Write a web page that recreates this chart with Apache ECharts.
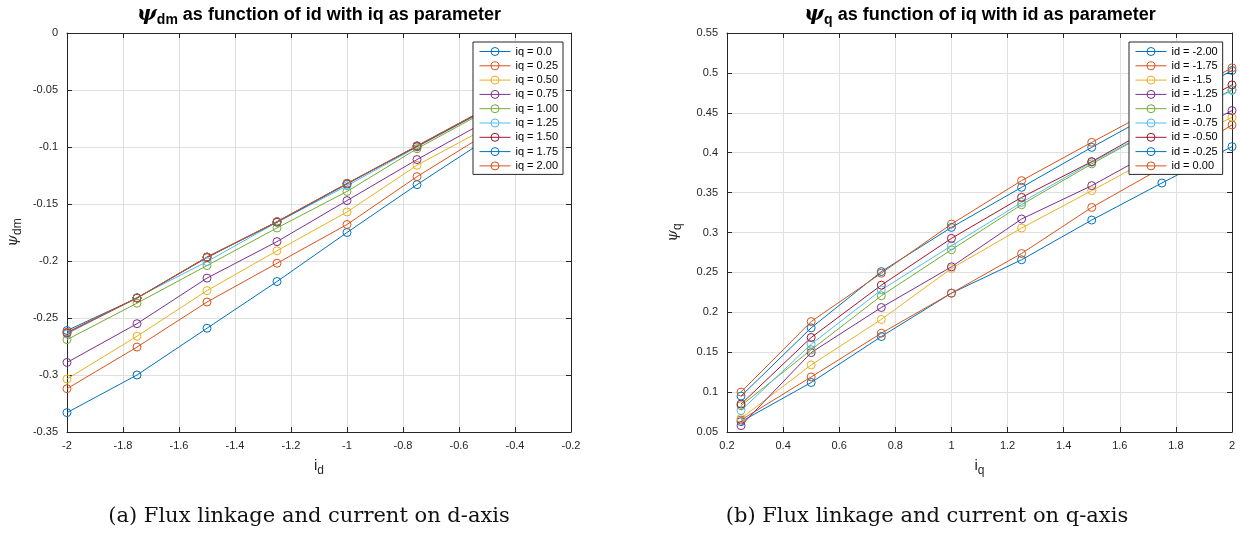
<!DOCTYPE html>
<html>
<head>
<meta charset="utf-8">
<script src="https://cdn.jsdelivr.net/npm/echarts@6/dist/echarts.min.js"></script>
<style>
html,body{margin:0;padding:0;background:#fff;}
#c{width:1240px;height:533px;}
</style>
</head>
<body>
<div id="c"></div>
<script>
// ---------- DATA ----------
// Left: psi_dm vs id, one series per iq
const idVals = [-2, -1.75, -1.5, -1.25, -1, -0.75, -0.5];
const leftNames = ['iq = 0.0','iq = 0.25','iq = 0.50','iq = 0.75','iq = 1.00','iq = 1.25','iq = 1.50','iq = 1.75','iq = 2.00'];
const psiDm_iq000 = [-0.333, -0.300, -0.259, -0.218, -0.175, -0.133, -0.093];
const psiDm_iq025 = [-0.312, -0.2755, -0.236, -0.202, -0.168, -0.126, -0.088];
const psiDm_iq050 = [-0.3035, -0.266, -0.226, -0.191, -0.157, -0.116, -0.083];
const psiDm_iq075 = [-0.289, -0.255, -0.215, -0.183, -0.147, -0.111, -0.077];
const psiDm_iq100 = [-0.269, -0.237, -0.204, -0.171, -0.139, -0.1015, -0.068];
const psiDm_iq125 = [-0.264, -0.232, -0.2005, -0.166, -0.134, -0.100, -0.067];
const psiDm_iq150 = [-0.263, -0.2325, -0.197, -0.1655, -0.132, -0.0995, -0.0665];
const psiDm_iq175 = [-0.261, -0.2325, -0.1965, -0.166, -0.1325, -0.099, -0.066];
const psiDm_iq200 = [-0.2625, -0.2325, -0.1965, -0.1655, -0.132, -0.099, -0.066];

// Right: psi_q vs iq, one series per id
const iqVals = [0.25, 0.5, 0.75, 1.0, 1.25, 1.5, 1.75, 2.0];
const rightNames = ['id = -2.00','id = -1.75','id = -1.5','id = -1.25','id = -1.0','id = -0.75','id = -0.50','id = -0.25','id = 0.00'];
const psiQ_idm200 = [0.063, 0.112, 0.1696, 0.224, 0.2658, 0.3156, 0.362, 0.4076];
const psiQ_idm175 = [0.065, 0.119, 0.1738, 0.224, 0.2737, 0.3314, 0.381, 0.4348];
const psiQ_idm150 = [0.067, 0.134, 0.191, 0.255, 0.3056, 0.3524, 0.400, 0.4444];
const psiQ_idm125 = [0.058, 0.1495, 0.206, 0.257, 0.3169, 0.3587, 0.407, 0.4528];
const psiQ_idm100 = [0.083, 0.153, 0.2207, 0.2784, 0.3348, 0.386, 0.434, 0.479];
const psiQ_idm075 = [0.077, 0.160, 0.228, 0.2834, 0.3377, 0.388, 0.434, 0.478];
const psiQ_idm050 = [0.085, 0.1684, 0.234, 0.2926, 0.344, 0.3888, 0.438, 0.485];
const psiQ_idm025 = [0.095, 0.1805, 0.251, 0.3064, 0.3566, 0.4067, 0.455, 0.503];
const psiQ_id000 = [0.100, 0.1884, 0.249, 0.3106, 0.365, 0.413, 0.460, 0.5063];

const leftSeriesData = [psiDm_iq000, psiDm_iq025, psiDm_iq050, psiDm_iq075, psiDm_iq100, psiDm_iq125, psiDm_iq150, psiDm_iq175, psiDm_iq200];
const rightSeriesData = [psiQ_idm200, psiQ_idm175, psiQ_idm150, psiQ_idm125, psiQ_idm100, psiQ_idm075, psiQ_idm050, psiQ_idm025, psiQ_id000];

// ---------- STYLE ----------
const colors = ['#0072BD','#D95319','#EDB120','#7E2F8E','#77AC30','#4DBEEE','#A2142F','#0072BD','#D95319'];
const AX = '#262626';
const FONT = 'Liberation Sans, Arial, Helvetica, sans-serif';
const fmt = v => String(Math.round(v * 1000) / 1000);

function bottomX(gridIndex, min, max, nameRich) {
  return {
    type: 'value', gridIndex, min, max, interval: 0.2, position: 'bottom',
    axisLine: {show: true, onZero: false, lineStyle: {color: AX, width: 1}},
    axisTick: {show: true, inside: true, length: 5, lineStyle: {color: AX}},
    axisLabel: {color: AX, fontSize: 11, fontFamily: FONT, margin: 8, formatter: fmt},
    splitLine: {show: true, lineStyle: {color: '#e0e0e0', width: 1}},
    name: nameRich, nameLocation: 'middle', nameGap: 23,
    nameTextStyle: {color: AX, fontFamily: FONT, rich: {
      i: {fontSize: 15, fontFamily: FONT, color: AX},
      s: {fontSize: 12, fontFamily: FONT, color: AX, padding: [10, 0, 0, 0], verticalAlign: 'bottom'}
    }}
  };
}
function topX(gridIndex, min, max) {
  return {
    type: 'value', gridIndex, min, max, interval: 0.2, position: 'top',
    axisLine: {show: true, onZero: false, lineStyle: {color: AX, width: 1}},
    axisTick: {show: true, inside: true, length: 5, lineStyle: {color: AX}},
    axisLabel: {show: false}, splitLine: {show: false}
  };
}
function leftY(gridIndex, min, max, nameRich) {
  return {
    type: 'value', gridIndex, min, max, interval: 0.05, position: 'left',
    axisLine: {show: true, onZero: false, lineStyle: {color: AX, width: 1}},
    axisTick: {show: true, inside: true, length: 5, lineStyle: {color: AX}},
    axisLabel: {color: AX, fontSize: 11, fontFamily: FONT, margin: 9, formatter: fmt},
    splitLine: {show: true, lineStyle: {color: '#e0e0e0', width: 1}},
    name: nameRich, nameLocation: 'middle', nameGap: 43, nameRotate: 90,
    nameTextStyle: {color: AX, fontFamily: FONT, rich: {
      p: {fontSize: 15, fontFamily: 'DejaVu Serif, serif', fontStyle: 'italic', color: AX},
      s: {fontSize: 12, fontFamily: FONT, color: AX, padding: [9, 0, 0, 0], verticalAlign: 'bottom'}
    }}
  };
}
function rightY(gridIndex, min, max) {
  return {
    type: 'value', gridIndex, min, max, interval: 0.05, position: 'right',
    axisLine: {show: true, onZero: false, lineStyle: {color: AX, width: 1}},
    axisTick: {show: true, inside: true, length: 5, lineStyle: {color: AX}},
    axisLabel: {show: false}, splitLine: {show: false}
  };
}

function makeSeries(name, xi, yi, xs, arr, color) {
  return {
    type: 'line', name, xAxisIndex: xi, yAxisIndex: yi,
    data: xs.map((x, i) => [x, arr[i]]),
    symbol: 'circle', symbolSize: 8, showAllSymbol: true,
    lineStyle: {width: 1, color},
    itemStyle: {color: 'rgba(255,255,255,0)', borderColor: color, borderWidth: 1},
    emphasis: {disabled: true}, animation: false
  };
}
const series = [];
leftSeriesData.forEach((arr, k) => series.push(makeSeries(leftNames[k], 0, 0, idVals, arr, colors[k])));
rightSeriesData.forEach((arr, k) => series.push(makeSeries(rightNames[k], 2, 2, iqVals, arr, colors[k])));

const legendBase = {
  orient: 'vertical', top: 42, padding: [4, 5, 3, 6],
  itemWidth: 31, itemHeight: 10, itemGap: 3.3,
  backgroundColor: '#fff', borderColor: AX, borderWidth: 1, borderRadius: 0,
  textStyle: {fontSize: 11, fontFamily: FONT, color: '#000'},
  itemStyle: {borderWidth: 1},
  lineStyle: {width: 1},
  selectedMode: false
};

const titleRich = {
  p: {fontSize: 21, fontFamily: 'DejaVu Serif, serif', fontStyle: 'italic', fontWeight: 'bold', fill: '#000'},
  s: {fontSize: 14, fontFamily: FONT, fontWeight: 'bold', fill: '#000', padding: [10, 0, 0, 0], verticalAlign: 'bottom'},
  t: {fontSize: 18, fontFamily: FONT, fontWeight: 'bold', fill: '#000'}
};

const option = {
  backgroundColor: '#fff',
  animation: false,
  grid: [
    {left: 67, top: 33, width: 504, height: 399, show: false, containLabel: false},
    {left: 727, top: 33, width: 505, height: 399, show: false, containLabel: false}
  ],
  xAxis: [
    bottomX(0, -2, -0.2, '{i|i}{s|d}'),
    topX(0, -2, -0.2),
    bottomX(1, 0.2, 2, '{i|i}{s|q}'),
    topX(1, 0.2, 2)
  ],
  yAxis: [
    leftY(0, -0.35, 0, '{p|ψ}{s|dm}'),
    rightY(0, -0.35, 0),
    leftY(1, 0.05, 0.55, '{p|ψ}{s|q}'),
    rightY(1, 0.05, 0.55)
  ],
  legend: [
    Object.assign({}, legendBase, {left: 473, data: leftNames}),
    Object.assign({}, legendBase, {left: 1129, data: rightNames})
  ],
  series,
  graphic: [
    {type: 'text', x: 319, y: 15, style: {text: '{p|ψ}{s|dm}{t| as function of id with iq as parameter}', rich: titleRich, align: 'center', verticalAlign: 'middle'}},
    {type: 'text', x: 980, y: 15, style: {text: '{p|ψ}{s|q}{t| as function of iq with id as parameter}', rich: titleRich, align: 'center', verticalAlign: 'middle'}},
    {type: 'text', x: 309, y: 517, style: {text: '(a) Flux linkage and current on d-axis', font: '21px "DejaVu Serif", "Liberation Serif", serif', fill: '#111', align: 'center', verticalAlign: 'middle'}},
    {type: 'text', x: 927, y: 517, style: {text: '(b) Flux linkage and current on q-axis', font: '21px "DejaVu Serif", "Liberation Serif", serif', fill: '#111', align: 'center', verticalAlign: 'middle'}}
  ]
};

const chart = echarts.init(document.getElementById('c'), null, {renderer: 'canvas'});
chart.setOption(option);
</script>
</body>
</html>
